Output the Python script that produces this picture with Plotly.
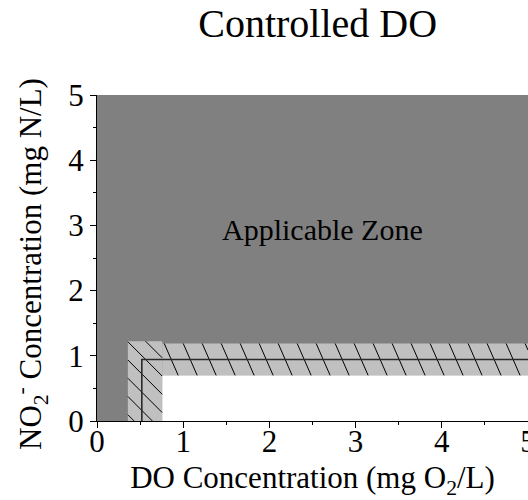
import numpy as np
import plotly.graph_objects as go

# ---------------- data ----------------
do_range = [0, 5]            # DO concentration axis (mg O2/L)
no2_range = [0, 5]           # NO2- concentration axis (mg N/L)
x_ticks = [0, 1, 2, 3, 4, 5]
y_ticks = [0, 1, 2, 3, 4, 5]

control_do = 0.52            # controlled DO set point (vertical line)
control_no2 = 0.943          # NO2- threshold (horizontal line)
do_band = [0.358, 0.756]     # uncertainty band around DO set point
do_band_top = 1.224
no2_band = [0.70, 1.189]     # uncertainty band around NO2- threshold

zone_label = "Applicable Zone"
zone_label_pos = [2.62, 2.94]
title_text = "Controlled DO"
x_title = "DO Concentration (mg O<sub>2</sub>/L)"
y_title = "NO<sub>2</sub><sup>-</sup> Concentration (mg N/L)"

# ---------------- layout constants ----------------
W, H = 528, 500
ML, MR, MT, MB = 97, 0, 95, 79
FONT = "'Liberation Serif', 'Times New Roman', Times, serif"
DARK = "#808080"
LIGHT = "#c0c0c0"

PW, PH = W - ML - MR, H - MT - MB
sx = PW / (do_range[1] - do_range[0])    # px per DO unit
sy = PH / (no2_range[1] - no2_range[0])  # px per NO2 unit


def hatch(x0, x1, y0, y1, ref, direction, spacing):
    """Parallel hatch segments (pixel-space angle/spacing) clipped to a data rectangle."""
    d = np.array(direction, float)
    d /= np.linalg.norm(d)
    n = np.array([-d[1], d[0]])
    px0, px1, py0, py1 = x0 * sx, x1 * sx, y0 * sy, y1 * sy
    ks = [n[0] * cx + n[1] * cy for cx in (px0, px1) for cy in (py0, py1)]
    kref = n[0] * ref[0] * sx + n[1] * ref[1] * sy
    i0 = int(np.ceil((min(ks) - kref) / spacing))
    i1 = int(np.floor((max(ks) - kref) / spacing))
    xs, ys = [], []
    for i in range(i0, i1 + 1):
        k = kref + i * spacing
        p0 = k * n
        lo, hi = -1e9, 1e9
        for a, b, comp in ((px0, px1, 0), (py0, py1, 1)):
            if abs(d[comp]) < 1e-12:
                if not (a <= p0[comp] <= b):
                    lo, hi = 1, 0
                continue
            t1, t2 = (a - p0[comp]) / d[comp], (b - p0[comp]) / d[comp]
            lo, hi = max(lo, min(t1, t2)), min(hi, max(t1, t2))
        if lo < hi:
            for t in (lo, hi):
                p = p0 + t * d
                xs.append(p[0] / sx)
                ys.append(p[1] / sy)
            xs.append(None)
            ys.append(None)
    return xs, ys


def rect(x0, x1, y0, y1, color):
    return go.Scatter(x=[x0, x1, x1, x0, x0], y=[y0, y0, y1, y1, y0],
                      mode="lines", fill="toself", fillcolor=color,
                      line=dict(width=0, color=color), hoverinfo="skip",
                      showlegend=False)


xmax = do_range[1]
fig = go.Figure()
fig.add_trace(rect(do_range[0], xmax, no2_range[0], no2_range[1], DARK))
fig.add_trace(rect(do_band[1], xmax, no2_range[0], no2_band[0], "white"))
fig.add_trace(rect(do_band[0], do_band[1], no2_range[0], do_band_top, LIGHT))
fig.add_trace(rect(do_band[1], xmax, no2_band[0], no2_band[1], LIGHT))

hx1, hy1 = hatch(do_band[0], do_band[1], no2_range[0], do_band_top,
                 ref=(do_band[0], 0.936), direction=(1, -1), spacing=12.9)
hx2, hy2 = hatch(do_band[1], xmax, no2_band[0], no2_band[1],
                 ref=(0.78, no2_band[1]), direction=(14, -32), spacing=17.4)
fig.add_trace(go.Scatter(x=hx1 + hx2, y=hy1 + hy2, mode="lines",
                         line=dict(color="black", width=1),
                         hoverinfo="skip", showlegend=False))

fig.add_trace(go.Scatter(x=[control_do, control_do, xmax],
                         y=[no2_range[0], control_no2, control_no2],
                         mode="lines", line=dict(color="#2a2a2a", width=1.6),
                         hoverinfo="skip", showlegend=False))

fig.add_annotation(x=zone_label_pos[0], y=zone_label_pos[1], text=zone_label,
                   showarrow=False, xanchor="center", yanchor="middle",
                   font=dict(family=FONT, size=30, color="black"))

# y-axis title as rotated annotation
fig.add_annotation(x=(31 - ML) / PW, y=(H - MB - 264) / PH, xref="paper", yref="paper",
                   text=y_title, textangle=-90, showarrow=False,
                   xanchor="center", yanchor="middle",
                   font=dict(family=FONT, size=31, color="black"))

axis_common = dict(showgrid=False, zeroline=False, showline=True,
                   linecolor="black", linewidth=1, ticks="outside",
                   ticklen=6, tickwidth=1, tickcolor="black",
                   tickfont=dict(family=FONT, size=31, color="black"),
                   minor=dict(dtick=0.5, ticks="outside", ticklen=3,
                              tickcolor="black", tickwidth=1),
                   automargin=False, fixedrange=True)

fig.update_layout(
    width=W, height=H,
    margin=dict(l=ML, r=MR, t=MT, b=MB, autoexpand=False),
    paper_bgcolor="white", plot_bgcolor="white",
    showlegend=False,
    title=dict(text=title_text, x=317.7 / W, xref="container", xanchor="center",
               y=1 - 23 / H, yref="container", yanchor="middle",
               font=dict(family=FONT, size=40, color="black")),
    xaxis=dict(range=do_range, tickvals=x_ticks, ticklabeloverflow="allow",
               ticklabelstandoff=-13,
               title=dict(text=x_title,
                          font=dict(family=FONT, size=31, color="black"),
                          standoff=23),
               **axis_common),
    yaxis=dict(range=no2_range, tickvals=y_ticks, **axis_common),
)

fig.write_html("out.html")
